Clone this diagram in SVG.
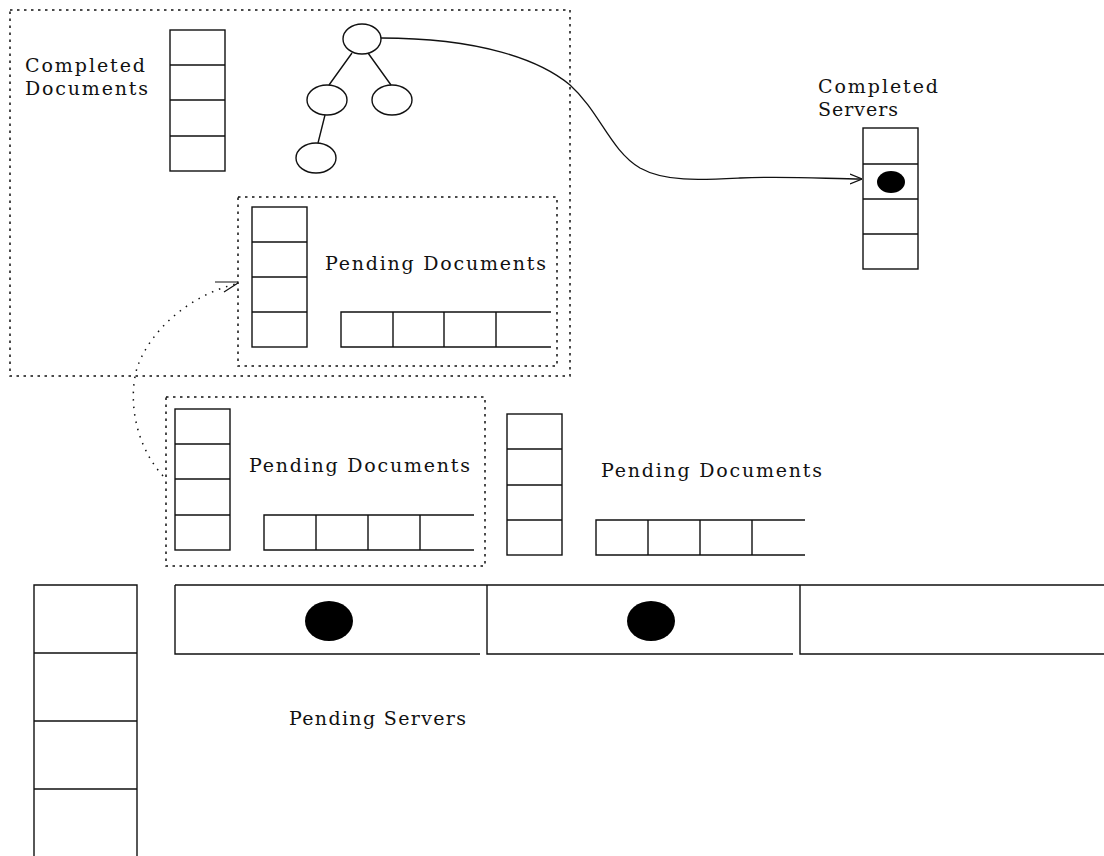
<svg xmlns="http://www.w3.org/2000/svg" width="1104" height="856" viewBox="0 0 1104 856">
<defs>
<style>
.s{fill:none;stroke:#111;stroke-width:1.4}
.dot{fill:#000}
.box{fill:none;stroke:#111;stroke-width:1.5;stroke-dasharray:2.5 4.5}
.t{font-family:"DejaVu Serif","Liberation Serif",serif;font-size:19px;fill:#111}
.c{fill:none;stroke:#111;stroke-width:1.3}
.cd{fill:none;stroke:#111;stroke-width:1.5;stroke-dasharray:1.5 6}
</style>
<marker id="open" viewBox="0 0 12 12" refX="12" refY="6" markerWidth="12" markerHeight="12" markerUnits="userSpaceOnUse" orient="auto">
<path d="M0,1 L12,6 L0,11" fill="none" stroke="#111" stroke-width="1.2"/>
</marker>
</defs>
<rect width="1104" height="856" fill="#fff"/>

<g id="workspace-box"><rect class="box" x="10" y="10" width="560" height="366"/></g>

<g id="completed-documents">
<text class="t" x="25" y="72" textLength="120" lengthAdjust="spacing">Completed</text>
<text class="t" x="25" y="95" textLength="123" lengthAdjust="spacing">Documents</text>
<rect class="s" x="170" y="30" width="55" height="141"/>
<path class="s" d="M170,65H225M170,100H225M170,136H225"/>
</g>

<g id="document-tree">
<ellipse class="s" cx="362" cy="39" rx="19" ry="15"/>
<ellipse class="s" cx="327" cy="100" rx="20" ry="15"/>
<ellipse class="s" cx="392" cy="100" rx="20" ry="15"/>
<ellipse class="s" cx="316" cy="158" rx="20" ry="15"/>
<path class="s" d="M352,53L329,85M368,53L391,85M325,115L318,143"/>
</g>

<g id="pending-documents-inner">
<rect class="box" x="238" y="197" width="319" height="169"/>
<rect class="s" x="252" y="207" width="55" height="140"/>
<path class="s" d="M252,242H307M252,277H307M252,312H307"/>
<text class="t" x="325" y="270" textLength="221" lengthAdjust="spacing">Pending Documents</text>
<path class="s" d="M551,312H341V347H551M393,312V347M444,312V347M496,312V347"/>
</g>

<g id="pending-documents-middle">
<rect class="box" x="166" y="397" width="319" height="169"/>
<rect class="s" x="175" y="409" width="55" height="141"/>
<path class="s" d="M175,444H230M175,479H230M175,515H230"/>
<text class="t" x="249" y="472" textLength="221" lengthAdjust="spacing">Pending Documents</text>
<path class="s" d="M474,515H264V550H474M316,515V550M368,515V550M420,515V550"/>
</g>

<g id="pending-documents-right">
<rect class="s" x="507" y="414" width="55" height="141"/>
<path class="s" d="M507,449H562M507,485H562M507,520H562"/>
<text class="t" x="601" y="477" textLength="221" lengthAdjust="spacing">Pending Documents</text>
<path class="s" d="M805,520H596V555H805M648,520V555M700,520V555M752,520V555"/>
</g>

<g id="completed-servers">
<text class="t" x="818" y="93" textLength="120" lengthAdjust="spacing">Completed</text>
<text class="t" x="818" y="116" textLength="80" lengthAdjust="spacing">Servers</text>
<rect class="s" x="863" y="128" width="55" height="141"/>
<path class="s" d="M863,164H918M863,199H918M863,234H918"/>
<ellipse class="dot" cx="891" cy="182" rx="14" ry="11"/>
</g>

<g id="pending-servers-column">
<path class="s" d="M34,860V585H137V860M34,653H137M34,721H137M34,789H137"/>
</g>

<g id="pending-servers-row">
<path class="s" d="M175,585H1104M175,585V654H480M487,585V654H793M800,585V654H1104"/>
<ellipse class="dot" cx="329" cy="621" rx="24" ry="20"/>
<ellipse class="dot" cx="651" cy="621" rx="24" ry="20"/>
<text class="t" x="289" y="725" textLength="177" lengthAdjust="spacing">Pending Servers</text>
</g>

<g id="connectors">
<path class="c" marker-end="url(#open)" d="M381,38 C480,38 540,60 570,85 C600,112 610,150 640,168 C665,182 700,180 740,178 C790,176 830,179 862,179"/>
<path class="cd" d="M163,476 C135,445 128,400 137,368 C150,330 190,295 236,284"/>
<path d="M215,282 H238 M238,283 L224,292" fill="none" stroke="#111" stroke-width="1.2"/>
</g>
</svg>
